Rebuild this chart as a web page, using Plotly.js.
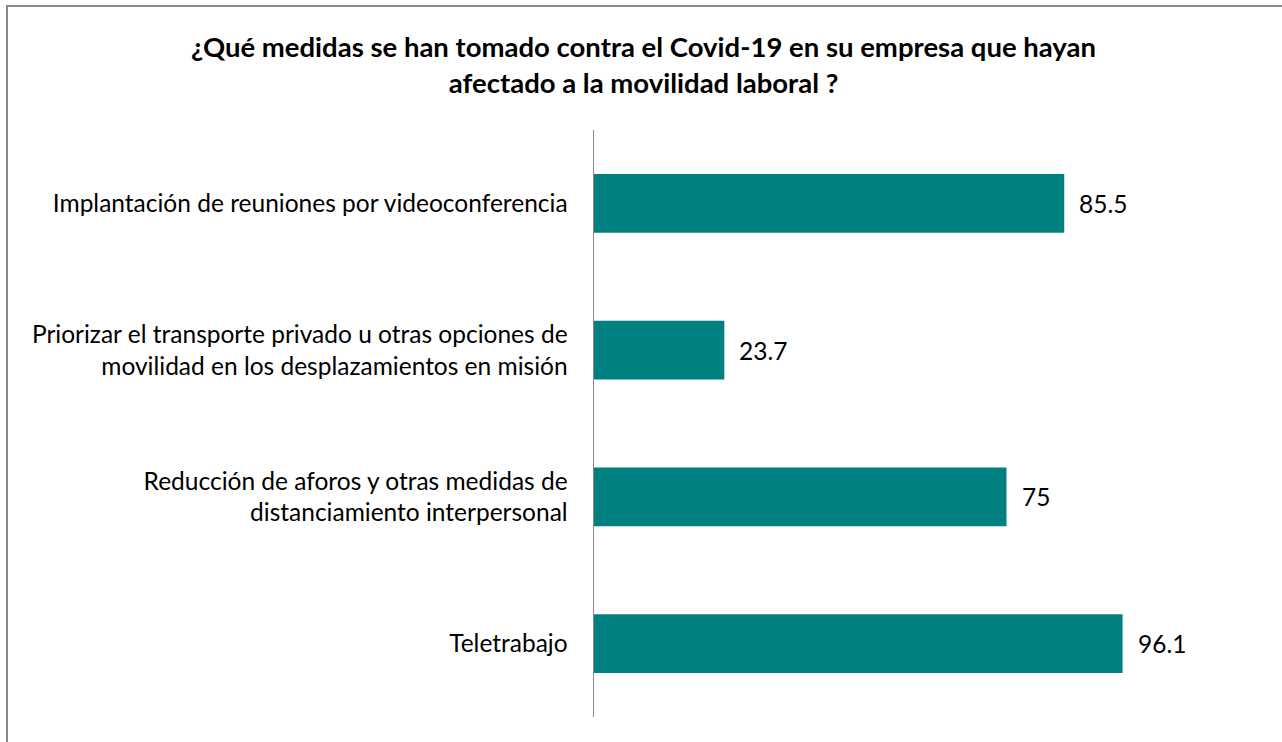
<!DOCTYPE html>
<html>
<head>
<meta charset="utf-8">
<script src="https://cdn.plot.ly/plotly-3.0.1.min.js"></script>
<style>
html, body { margin: 0; padding: 0; background: #fff; }
#chart { position: absolute; left: 0; top: 0; width: 1282px; height: 742px; }
#frame { position: absolute; left: 6px; top: 5px; width: 1290px; height: 760px; border-left: 2px solid #888; border-top: 2px solid #888; pointer-events: none; }
</style>
</head>
<body>
<div id="chart"></div>
<div id="frame"></div>
<script>
const categories = [
  "Implantación de reuniones por videoconferencia",
  "Priorizar el transporte privado u otras opciones de<br>movilidad en los desplazamientos en misión",
  "Reducción de aforos y otras medidas de<br>distanciamiento interpersonal",
  "Teletrabajo"
];
const values = [85.5, 23.7, 75, 96.1];
const valueLabels = ["85.5", "23.7", "75", "96.1"];
const titleText = "¿Qué medidas se han tomado contra el Covid-19 en su empresa que hayan<br>afectado a la movilidad laboral ?";

const FONT = "Lato, 'Open Sans', sans-serif";

const trace = {
  type: "bar",
  orientation: "h",
  x: values,
  y: categories,
  marker: { color: "#008080" },
  hoverinfo: "skip"
};

const annotations = values.map((v, i) => ({
  x: v, y: categories[i], xref: "x", yref: "y",
  text: valueLabels[i], showarrow: false,
  xanchor: "left", xshift: 13,
  font: { family: FONT, size: 24.5, color: "#000" }
}));

const layout = {
  width: 1282, height: 742,
  margin: { l: 594, r: 28, t: 130, b: 25 },
  paper_bgcolor: "rgba(0,0,0,0)",
  plot_bgcolor: "rgba(0,0,0,0)",
  bargap: 0.6,
  showlegend: false,
  title: {
    text: titleText,
    xref: "container", x: 0.502, xanchor: "center",
    yref: "container", y: 0.9235, yanchor: "middle",
    font: { family: FONT, size: 27.5, color: "#000", weight: "bold" }
  },
  xaxis: {
    range: [0, 120], showgrid: false, zeroline: false, showline: false,
    showticklabels: false, ticks: "", fixedrange: true
  },
  yaxis: {
    autorange: "reversed", showgrid: false, zeroline: false,
    showline: true, linecolor: "#8c8c8c", linewidth: 1.5,
    ticks: "", ticklabelstandoff: 20,
    tickfont: { family: FONT, size: 24.5, color: "#000" }
  },
  annotations: annotations
};

Plotly.newPlot("chart", [trace], layout, { displayModeBar: false, staticPlot: true });
</script>
</body>
</html>
